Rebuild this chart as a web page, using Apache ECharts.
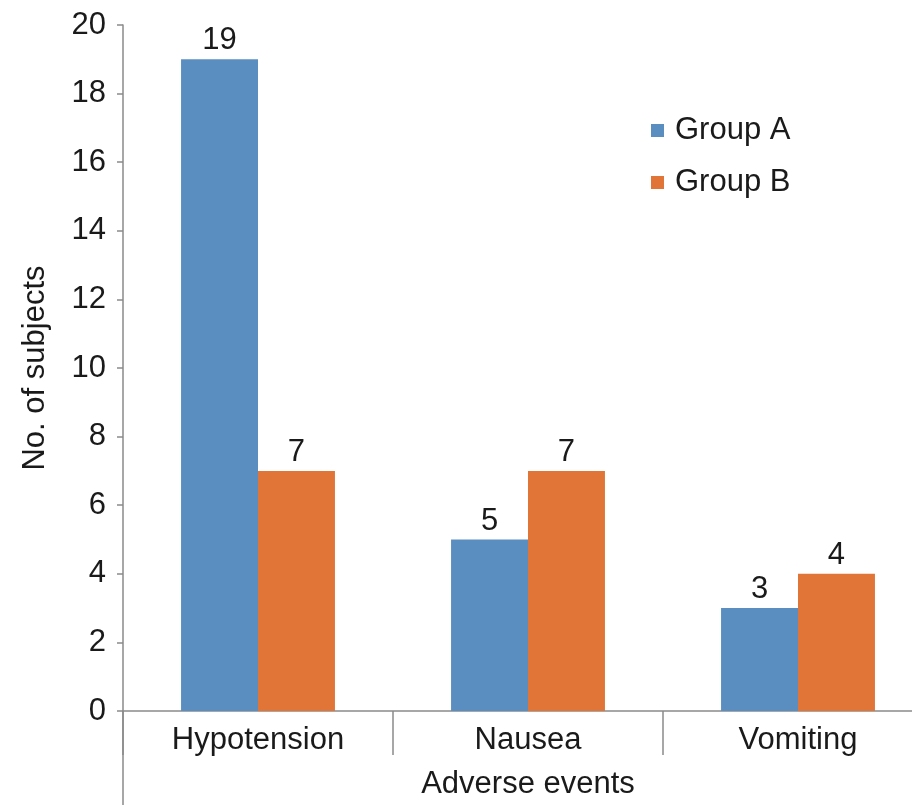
<!DOCTYPE html>
<html><head><meta charset="utf-8">
<script src="https://cdn.jsdelivr.net/npm/echarts@6/dist/echarts.min.js"></script>
<style>html,body{margin:0;padding:0;background:#fff;overflow:hidden;width:912px;height:805px}#c{width:933px;height:805px}</style>
</head><body><div id="c"></div>
<script>
const categories = ['Hypotension', 'Nausea', 'Vomiting'];
const groupA = [19, 5, 3];
const groupB = [7, 7, 4];
const yTicks = [0, 2, 4, 6, 8, 10, 12, 14, 16, 18, 20];

const chart = echarts.init(document.getElementById('c'));
const font = 'Liberation Sans, Arial, Helvetica, sans-serif';
const fs = 31;
chart.setOption({
  animation: false,
  textStyle: { fontFamily: font },
  grid: { left: 123, top: 25, width: 810, height: 691 },
  legend: {
    orient: 'vertical', left: 646, top: 110, itemGap: 21,
    itemWidth: 13, itemHeight: 13, icon: 'rect',
    textStyle: { fontSize: fs, color: '#1a1a1a', fontFamily: font, padding: [0, 0, 0, 6] },
    data: ['Group A', 'Group B']
  },
  xAxis: {
    type: 'category', data: categories,
    name: 'Adverse events', nameLocation: 'middle', nameGap: 58,
    nameTextStyle: { fontSize: fs, color: '#1a1a1a' },
    axisLine: { lineStyle: { color: '#8a8a8a', width: 1.5 } },
    axisTick: { show: true, length: 44, lineStyle: { color: '#8a8a8a', width: 1.5 } },
    axisLabel: { fontSize: fs, color: '#1a1a1a', margin: 14 }
  },
  yAxis: {
    type: 'value', min: yTicks[0], max: yTicks[yTicks.length - 1], interval: 2,
    name: 'No. of subjects', nameLocation: 'middle', nameGap: 72, nameRotate: 90,
    nameTextStyle: { fontSize: fs, color: '#1a1a1a' },
    axisLine: { show: true, lineStyle: { color: '#8a8a8a', width: 1.5 } },
    axisTick: { show: true, length: 6, lineStyle: { color: '#8a8a8a', width: 1.5 } },
    axisLabel: { fontSize: fs, color: '#1a1a1a', margin: 17 },
    splitLine: { show: false }
  },
  series: [
    { name: 'Group A', type: 'bar', data: groupA, barGap: '0%', barCategoryGap: '43%',
      itemStyle: { color: '#5a8ec1' },
      label: { show: true, position: 'top', fontSize: fs, color: '#1a1a1a', distance: 3 } },
    { name: 'Group B', type: 'bar', data: groupB,
      itemStyle: { color: '#e07537' },
      label: { show: true, position: 'top', fontSize: fs, color: '#1a1a1a', distance: 3 } }
  ]
});
const x0 = chart.convertToPixel({ gridIndex: 0 }, [0, 0]);
chart.setOption({
  graphic: [{ type: 'line', shape: { x1: 123, y1: x0[1], x2: 123, y2: 805 },
    style: { stroke: '#8a8a8a', lineWidth: 1.5 } }]
});
</script></body></html>
